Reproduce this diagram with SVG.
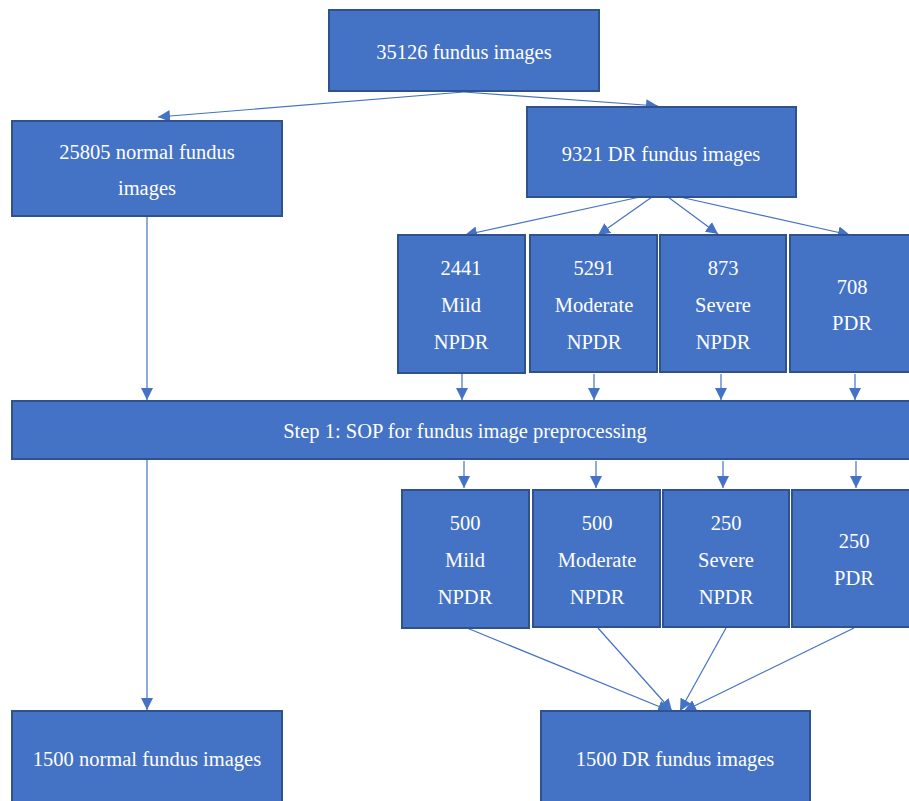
<svg xmlns="http://www.w3.org/2000/svg" width="909" height="801" viewBox="0 0 909 801">
<style>
.box{fill:#4472C4;stroke:#2F528F;stroke-width:2}
.t{font-family:"Liberation Serif","Tinos","Times New Roman",serif;font-size:20.5px;fill:#ffffff;text-anchor:middle}
.c{stroke:#4472C4;stroke-width:1.2;fill:none}
</style>
<defs>
<marker id="ah" viewBox="0 0 10 10" refX="10" refY="5" markerWidth="12" markerHeight="12" markerUnits="userSpaceOnUse" orient="auto">
<path d="M0,0 L10,5 L0,10 z" fill="#4472C4"/>
</marker>
</defs>
<rect x="0" y="0" width="909" height="801" fill="#ffffff"/>
<g id="connectors">
<line class="c" x1="464" y1="92" x2="158" y2="117" marker-end="url(#ah)"/>
<line class="c" x1="464" y1="92" x2="658" y2="106" marker-end="url(#ah)"/>
<line class="c" x1="640" y1="197" x2="465" y2="235" marker-end="url(#ah)"/>
<line class="c" x1="652" y1="197" x2="598" y2="235" marker-end="url(#ah)"/>
<line class="c" x1="668" y1="197" x2="718" y2="234" marker-end="url(#ah)"/>
<line class="c" x1="680" y1="197" x2="850" y2="235" marker-end="url(#ah)"/>
<line class="c" x1="147" y1="217" x2="147" y2="400" marker-end="url(#ah)"/>
<line class="c" x1="462" y1="374" x2="462" y2="400" marker-end="url(#ah)"/>
<line class="c" x1="594" y1="374" x2="594" y2="400" marker-end="url(#ah)"/>
<line class="c" x1="721" y1="374" x2="721" y2="400" marker-end="url(#ah)"/>
<line class="c" x1="855" y1="374" x2="855" y2="400" marker-end="url(#ah)"/>
<line class="c" x1="464" y1="461" x2="464" y2="488" marker-end="url(#ah)"/>
<line class="c" x1="596" y1="461" x2="596" y2="488" marker-end="url(#ah)"/>
<line class="c" x1="723" y1="461" x2="723" y2="488" marker-end="url(#ah)"/>
<line class="c" x1="856" y1="461" x2="856" y2="488" marker-end="url(#ah)"/>
<line class="c" x1="147" y1="460" x2="147" y2="710" marker-end="url(#ah)"/>
<line class="c" x1="467" y1="628" x2="670" y2="711" marker-end="url(#ah)"/>
<line class="c" x1="598" y1="628" x2="672" y2="711" marker-end="url(#ah)"/>
<line class="c" x1="726" y1="628" x2="680" y2="711" marker-end="url(#ah)"/>
<line class="c" x1="854" y1="628" x2="684" y2="711" marker-end="url(#ah)"/>
</g>
<g id="n-total"><rect class="box" x="329" y="10" width="270" height="81"/><text class="t" x="464" y="59">35126 fundus images</text></g>
<g id="n-normal"><rect class="box" x="12" y="121" width="270" height="95"/><text class="t" x="147" y="159">25805 normal fundus</text><text class="t" x="147" y="195">images</text></g>
<g id="n-dr"><rect class="box" x="527" y="107" width="269" height="90"/><text class="t" x="661" y="161">9321 DR fundus images</text></g>
<g id="n-mild1"><rect class="box" x="398" y="235" width="127" height="138"/><text class="t" x="461" y="275">2441</text><text class="t" x="461" y="312">Mild</text><text class="t" x="461" y="349">NPDR</text></g>
<g id="n-mod1"><rect class="box" x="530" y="235" width="127" height="137"/><text class="t" x="594" y="275">5291</text><text class="t" x="594" y="312">Moderate</text><text class="t" x="594" y="349">NPDR</text></g>
<g id="n-sev1"><rect class="box" x="660" y="235" width="126" height="137"/><text class="t" x="723" y="275">873</text><text class="t" x="723" y="312">Severe</text><text class="t" x="723" y="349">NPDR</text></g>
<g id="n-pdr1"><rect class="box" x="790" y="235" width="125" height="137"/><text class="t" x="852" y="294">708</text><text class="t" x="852" y="330">PDR</text></g>
<g id="n-step1"><rect class="box" x="12" y="401" width="903" height="58"/><text class="t" x="465" y="438">Step 1: SOP for fundus image preprocessing</text></g>
<g id="n-mild2"><rect class="box" x="402" y="490" width="127" height="138"/><text class="t" x="465" y="530">500</text><text class="t" x="465" y="567">Mild</text><text class="t" x="465" y="604">NPDR</text></g>
<g id="n-mod2"><rect class="box" x="533" y="490" width="127" height="137"/><text class="t" x="597" y="530">500</text><text class="t" x="597" y="567">Moderate</text><text class="t" x="597" y="604">NPDR</text></g>
<g id="n-sev2"><rect class="box" x="663" y="490" width="126" height="137"/><text class="t" x="726" y="530">250</text><text class="t" x="726" y="567">Severe</text><text class="t" x="726" y="604">NPDR</text></g>
<g id="n-pdr2"><rect class="box" x="792" y="490" width="123" height="137"/><text class="t" x="854" y="548">250</text><text class="t" x="854" y="585">PDR</text></g>
<g id="n-normal2"><rect class="box" x="12" y="711" width="270" height="95"/><text class="t" x="147" y="766">1500 normal fundus images</text></g>
<g id="n-dr2"><rect class="box" x="541" y="711" width="269" height="95"/><text class="t" x="675" y="766">1500 DR fundus images</text></g>
</svg>
